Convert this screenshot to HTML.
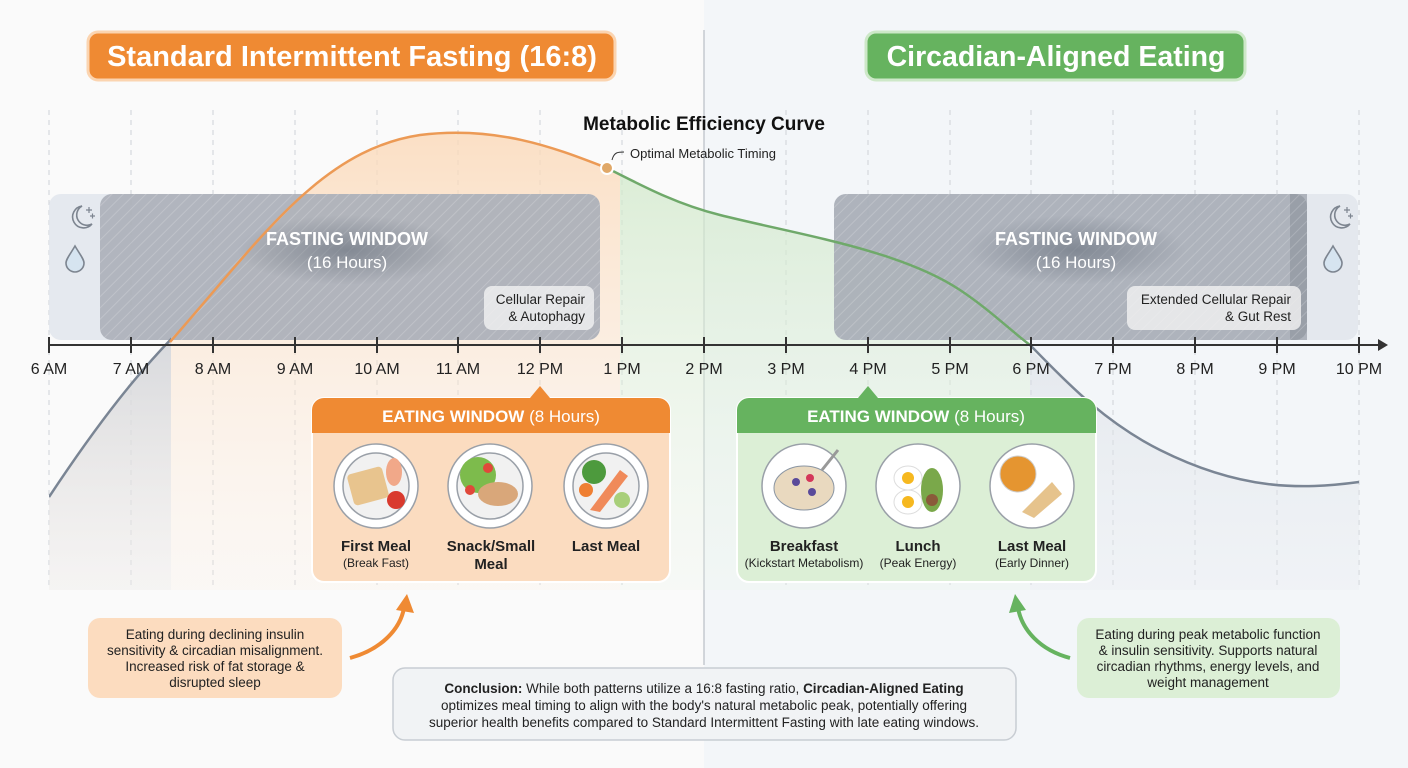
<!DOCTYPE html>
<html><head><meta charset="utf-8"><style>
html,body{margin:0;padding:0;width:1408px;height:768px;overflow:hidden;background:#fafafa;font-family:"Liberation Sans",sans-serif}
svg{position:absolute;left:0;top:0}
</style></head><body>
<svg width="1408" height="768" viewBox="0 0 1408 768" font-family="Liberation Sans, sans-serif">
<defs>
<pattern id="hatch" width="8" height="8" patternUnits="userSpaceOnUse" patternTransform="rotate(45)">
<line x1="0" y1="0" x2="0" y2="8" stroke="#ffffff" stroke-opacity="0.18" stroke-width="2"/></pattern>
<linearGradient id="fo" x1="0" y1="0" x2="0" y2="1"><stop offset="0" stop-color="#fbd9b8" stop-opacity="0.8"/><stop offset="1" stop-color="#fdeee0" stop-opacity="0.2"/></linearGradient>
<linearGradient id="fg" x1="0" y1="0" x2="0" y2="1"><stop offset="0" stop-color="#cfe8c8" stop-opacity="0.8"/><stop offset="1" stop-color="#eaf5e6" stop-opacity="0.2"/></linearGradient>
<linearGradient id="fgr" x1="0" y1="0" x2="0" y2="1"><stop offset="0" stop-color="#cdd3dc" stop-opacity="0.8"/><stop offset="1" stop-color="#e8ebef" stop-opacity="0.3"/></linearGradient>
<radialGradient id="glow"><stop offset="0" stop-color="#5d6673" stop-opacity="0.55"/><stop offset="1" stop-color="#5d6673" stop-opacity="0"/></radialGradient>
<clipPath id="cl"><rect x="49" y="0" width="571" height="600"/></clipPath>
<clipPath id="cm"><rect x="620" y="0" width="410" height="600"/></clipPath>
<clipPath id="cr"><rect x="1030" y="0" width="330" height="600"/></clipPath>
<clipPath id="cll"><rect x="49" y="0" width="122" height="600"/></clipPath>
</defs>
<rect x="704" y="0" width="704" height="768" fill="#f3f6f9"/>
<g stroke="#cfd3d8" stroke-dasharray="5,5" stroke-width="1">
<line x1="49" y1="110" x2="49" y2="585"/><line x1="131" y1="110" x2="131" y2="585"/><line x1="213" y1="110" x2="213" y2="585"/><line x1="295" y1="110" x2="295" y2="585"/><line x1="377" y1="110" x2="377" y2="585"/><line x1="458" y1="110" x2="458" y2="585"/><line x1="540" y1="110" x2="540" y2="585"/><line x1="622" y1="110" x2="622" y2="585"/><line x1="786" y1="110" x2="786" y2="585"/><line x1="868" y1="110" x2="868" y2="585"/><line x1="950" y1="110" x2="950" y2="585"/><line x1="1031" y1="110" x2="1031" y2="585"/><line x1="1113" y1="110" x2="1113" y2="585"/><line x1="1195" y1="110" x2="1195" y2="585"/><line x1="1277" y1="110" x2="1277" y2="585"/><line x1="1359" y1="110" x2="1359" y2="585"/>
</g>
<line x1="704" y1="30" x2="704" y2="665" stroke="#b8bec6" stroke-width="1.2"/>
<g>
<path clip-path="url(#cl)" d="M49,497 C100,420 140,370 180,330 C260,240 320,150 420,135 C500,125 560,150 607,168 C650,190 680,205 720,215 C800,235 900,250 960,290 C1020,330 1080,410 1160,450 C1240,490 1300,490 1359,482 L1359,590 L49,590 Z" fill="url(#fo)"/>
<path clip-path="url(#cll)" d="M49,497 C100,420 140,370 180,330 L180,590 L49,590 Z" fill="url(#fgr)"/>
<path clip-path="url(#cm)" d="M49,497 C100,420 140,370 180,330 C260,240 320,150 420,135 C500,125 560,150 607,168 C650,190 680,205 720,215 C800,235 900,250 960,290 C1020,330 1080,410 1160,450 C1240,490 1300,490 1359,482 L1359,590 L49,590 Z" fill="url(#fg)"/>
<path clip-path="url(#cr)" d="M49,497 C100,420 140,370 180,330 C260,240 320,150 420,135 C500,125 560,150 607,168 C650,190 680,205 720,215 C800,235 900,250 960,290 C1020,330 1080,410 1160,450 C1240,490 1300,490 1359,482 L1359,590 L49,590 Z" fill="url(#fgr)"/>
</g>
<rect x="49" y="194" width="551" height="146" rx="12" fill="#e1e5ec" opacity="0.85"/>
<rect x="100" y="194" width="500" height="146" rx="12" fill="#8d939c" opacity="0.6"/>
<rect x="100" y="194" width="500" height="146" rx="12" fill="url(#hatch)"/>
<ellipse cx="347" cy="250" rx="110" ry="35" fill="url(#glow)"/>
<rect x="834" y="194" width="524" height="146" rx="12" fill="#e1e5ec" opacity="0.85"/>
<rect x="834" y="194" width="473" height="146" rx="12" fill="#8d939c" opacity="0.62"/>
<rect x="1290" y="194" width="17" height="146" fill="#8d939c" opacity="0.62"/>
<rect x="834" y="194" width="473" height="146" rx="12" fill="url(#hatch)"/>
<ellipse cx="1076" cy="250" rx="110" ry="35" fill="url(#glow)"/>
<path clip-path="url(#cll)" d="M49,497 C100,420 140,370 180,330" stroke="#7a8594" stroke-width="2.5" fill="none"/>
<path d="M170,342 C260,240 320,150 420,135 C500,125 560,150 607,168" stroke="#ec9a55" stroke-width="2.5" fill="none"/>
<path d="M607,168 C650,190 680,205 720,215 C800,235 900,250 960,290 C990,310 1010,330 1030,345" stroke="#6fa96a" stroke-width="2.5" fill="none"/>
<path d="M1030,345 C1060,375 1100,420 1160,450 C1240,490 1300,490 1359,482" stroke="#7a8594" stroke-width="2.5" fill="none"/>
<circle cx="607" cy="168" r="6" fill="#e0a868" stroke="#fff" stroke-width="2"/>
<path d="M612,160 C614,152 618,152 624,152" stroke="#333" fill="none" stroke-width="1"/>
<text x="630" y="158" font-size="13" fill="#222">Optimal Metabolic Timing</text>
<text x="704" y="130" font-size="19" font-weight="bold" fill="#111" text-anchor="middle">Metabolic Efficiency Curve</text>
<g text-anchor="middle" fill="#fff">
<text x="347" y="245" font-size="18" font-weight="bold">FASTING WINDOW</text>
<text x="347" y="268" font-size="17">(16 Hours)</text>
<text x="1076" y="245" font-size="18" font-weight="bold">FASTING WINDOW</text>
<text x="1076" y="268" font-size="17">(16 Hours)</text>
</g>
<rect x="484" y="286" width="110" height="44" rx="8" fill="#f2f2f2" opacity="0.8"/>
<text font-size="13.5" fill="#222" text-anchor="end"><tspan x="585" y="304">Cellular Repair</tspan><tspan x="585" y="321">&amp; Autophagy</tspan></text>
<rect x="1127" y="286" width="174" height="44" rx="8" fill="#f2f2f2" opacity="0.8"/>
<text font-size="13.5" fill="#222" text-anchor="end"><tspan x="1291" y="304">Extended Cellular Repair</tspan><tspan x="1291" y="321">&amp; Gut Rest</tspan></text>
<g fill="none" stroke="#7d8590" stroke-width="1.6">
<path d="M82,206 A11,11 0 1 0 92,224 A9,9 0 0 1 82,206Z"/>
<path d="M86,210 h6 M89,207 v6 M90,216 h5 M92.5,213.5 v5" stroke-width="1.2"/>
<path d="M75,246 C71,253 66,259 66,263 A9,9 0 0 0 84,263 C84,259 79,253 75,246Z" fill="#d6e4f0"/>
<path d="M1340,206 A11,11 0 1 0 1350,224 A9,9 0 0 1 1340,206Z"/>
<path d="M1344,210 h6 M1347,207 v6 M1348,216 h5 M1350.5,213.5 v5" stroke-width="1.2"/>
<path d="M1333,246 C1329,253 1324,259 1324,263 A9,9 0 0 0 1342,263 C1342,259 1337,253 1333,246Z" fill="#d6e4f0"/>
</g>
<line x1="49" y1="345" x2="1380" y2="345" stroke="#333" stroke-width="2"/>
<path d="M1378,339 L1388,345 L1378,351Z" fill="#333"/>
<g stroke="#333" stroke-width="2">
<line x1="49" y1="337" x2="49" y2="353"/><line x1="131" y1="337" x2="131" y2="353"/><line x1="213" y1="337" x2="213" y2="353"/><line x1="295" y1="337" x2="295" y2="353"/><line x1="377" y1="337" x2="377" y2="353"/><line x1="458" y1="337" x2="458" y2="353"/><line x1="540" y1="337" x2="540" y2="353"/><line x1="622" y1="337" x2="622" y2="353"/><line x1="704" y1="337" x2="704" y2="353"/><line x1="786" y1="337" x2="786" y2="353"/><line x1="868" y1="337" x2="868" y2="353"/><line x1="950" y1="337" x2="950" y2="353"/><line x1="1031" y1="337" x2="1031" y2="353"/><line x1="1113" y1="337" x2="1113" y2="353"/><line x1="1195" y1="337" x2="1195" y2="353"/><line x1="1277" y1="337" x2="1277" y2="353"/><line x1="1359" y1="337" x2="1359" y2="353"/>
</g>
<g font-size="16" fill="#222" text-anchor="middle">
<text x="49" y="374">6 AM</text><text x="131" y="374">7 AM</text><text x="213" y="374">8 AM</text><text x="295" y="374">9 AM</text><text x="377" y="374">10 AM</text><text x="458" y="374">11 AM</text><text x="540" y="374">12 PM</text><text x="622" y="374">1 PM</text><text x="704" y="374">2 PM</text><text x="786" y="374">3 PM</text><text x="868" y="374">4 PM</text><text x="950" y="374">5 PM</text><text x="1031" y="374">6 PM</text><text x="1113" y="374">7 PM</text><text x="1195" y="374">8 PM</text><text x="1277" y="374">9 PM</text><text x="1359" y="374">10 PM</text>
</g>
<rect x="88" y="32" width="527" height="48" rx="10" fill="#ef8a33" stroke="#fbd4b0" stroke-width="3"/>
<text x="352" y="66" font-size="29" font-weight="bold" fill="#fff" text-anchor="middle">Standard Intermittent Fasting (16:8)</text>
<rect x="866" y="32" width="379" height="48" rx="10" fill="#66b35f" stroke="#cde8c8" stroke-width="3"/>
<text x="1056" y="66" font-size="28.5" font-weight="bold" fill="#fff" text-anchor="middle">Circadian-Aligned Eating</text>
<rect x="312" y="398" width="358" height="184" rx="12" fill="#fbdcc0" stroke="#fff" stroke-width="2"/>
<path d="M312,410 A12,12 0 0 1 324,398 L658,398 A12,12 0 0 1 670,410 L670,433 L312,433Z" fill="#ef8a33"/>
<path d="M530,398 L540,386 L550,398Z" fill="#ef8a33"/>
<text x="491" y="422" font-size="17" fill="#fff" text-anchor="middle"><tspan font-weight="bold">EATING WINDOW</tspan> (8 Hours)</text>
<rect x="737" y="398" width="359" height="184" rx="12" fill="#dcefd6" stroke="#fff" stroke-width="2"/>
<path d="M737,410 A12,12 0 0 1 749,398 L1084,398 A12,12 0 0 1 1096,410 L1096,433 L737,433Z" fill="#66b35f"/>
<path d="M858,398 L868,386 L878,398Z" fill="#66b35f"/>
<text x="916" y="422" font-size="17" fill="#fff" text-anchor="middle"><tspan font-weight="bold">EATING WINDOW</tspan> (8 Hours)</text>
<g stroke="#9aa0a8" stroke-width="1.5">
<circle cx="376" cy="486" r="42" fill="#fff"/><circle cx="376" cy="486" r="33" fill="#f1f1f1"/>
<circle cx="490" cy="486" r="42" fill="#fff"/><circle cx="490" cy="486" r="33" fill="#f1f1f1"/>
<circle cx="606" cy="486" r="42" fill="#fff"/><circle cx="606" cy="486" r="33" fill="#f1f1f1"/>
<circle cx="804" cy="486" r="42" fill="#fff"/><circle cx="918" cy="486" r="42" fill="#fff"/><circle cx="1032" cy="486" r="42" fill="#fff"/>
</g>
<rect x="350" y="470" width="36" height="32" rx="4" fill="#e8c48e" transform="rotate(-15 368 486)"/>
<circle cx="396" cy="500" r="9" fill="#d93a2e"/><ellipse cx="394" cy="472" rx="8" ry="14" fill="#f1a889"/>
<circle cx="478" cy="475" r="18" fill="#7dbb4c"/><ellipse cx="498" cy="494" rx="20" ry="12" fill="#d9a77a"/><circle cx="470" cy="490" r="5" fill="#e0483a"/><circle cx="488" cy="468" r="5" fill="#e0483a"/>
<circle cx="594" cy="472" r="12" fill="#4d9a3d"/><circle cx="586" cy="490" r="7" fill="#ef7f32"/><path d="M590,510 L620,470 L628,476 L600,512Z" fill="#f08a5a"/><circle cx="622" cy="500" r="8" fill="#a8cf7a"/>
<ellipse cx="804" cy="488" rx="30" ry="22" fill="#e9d9bf" stroke="#8b96a3"/><circle cx="796" cy="482" r="4" fill="#5a4a9a"/><circle cx="810" cy="478" r="4" fill="#d4365a"/><circle cx="812" cy="492" r="4" fill="#5a4a9a"/><line x1="822" y1="470" x2="838" y2="450" stroke="#999" stroke-width="3"/>
<ellipse cx="908" cy="478" rx="14" ry="12" fill="#fff" stroke="#ddd"/><circle cx="908" cy="478" r="6" fill="#f6b81f"/><ellipse cx="908" cy="502" rx="14" ry="12" fill="#fff" stroke="#ddd"/><circle cx="908" cy="502" r="6" fill="#f6b81f"/><ellipse cx="932" cy="490" rx="11" ry="22" fill="#7aa84a"/><circle cx="932" cy="500" r="6" fill="#8a5a3a"/>
<circle cx="1018" cy="474" r="18" fill="#e59530" stroke="#ccc"/><path d="M1022,512 L1052,482 L1062,494 L1034,518Z" fill="#e6c38c"/>
<g text-anchor="middle" fill="#222">
<text x="376" y="551" font-size="15" font-weight="bold">First Meal</text><text x="376" y="567" font-size="12">(Break Fast)</text>
<text x="491" y="551" font-size="15" font-weight="bold">Snack/Small</text><text x="491" y="569" font-size="15" font-weight="bold">Meal</text>
<text x="606" y="551" font-size="15" font-weight="bold">Last Meal</text>
<text x="804" y="551" font-size="15" font-weight="bold">Breakfast</text><text x="804" y="567" font-size="12">(Kickstart Metabolism)</text>
<text x="918" y="551" font-size="15" font-weight="bold">Lunch</text><text x="918" y="567" font-size="12">(Peak Energy)</text>
<text x="1032" y="551" font-size="15" font-weight="bold">Last Meal</text><text x="1032" y="567" font-size="12">(Early Dinner)</text>
</g>
<rect x="88" y="618" width="254" height="80" rx="12" fill="#fcdcbf"/>
<text font-size="13.5" fill="#222" text-anchor="middle"><tspan x="215" y="639">Eating during declining insulin</tspan><tspan x="215" y="655">sensitivity &amp; circadian misalignment.</tspan><tspan x="215" y="671">Increased risk of fat storage &amp;</tspan><tspan x="215" y="687">disrupted sleep</tspan></text>
<path d="M350,658 C380,650 400,630 404,608" stroke="#ef8a33" stroke-width="4" fill="none"/><path d="M396,610 L407,594 L414,613Z" fill="#ef8a33"/>
<rect x="1077" y="618" width="263" height="80" rx="12" fill="#dcefd6"/>
<text font-size="13.5" fill="#222" text-anchor="middle"><tspan x="1208" y="639">Eating during peak metabolic function</tspan><tspan x="1208" y="655">&amp; insulin sensitivity. Supports natural</tspan><tspan x="1208" y="671">circadian rhythms, energy levels, and</tspan><tspan x="1208" y="687">weight management</tspan></text>
<path d="M1070,658 C1040,650 1022,630 1018,608" stroke="#66b35f" stroke-width="4" fill="none"/><path d="M1009,613 L1015,594 L1026,610Z" fill="#66b35f"/>
<rect x="393" y="668" width="623" height="72" rx="12" fill="#f1f3f5" stroke="#c8cdd3" stroke-width="1.5"/>
<text font-size="13.5" fill="#222" text-anchor="middle"><tspan x="704" y="693"><tspan font-weight="bold">Conclusion:</tspan> While both patterns utilize a 16:8 fasting ratio, <tspan font-weight="bold">Circadian-Aligned Eating</tspan></tspan><tspan x="704" y="710">optimizes meal timing to align with the body's natural metabolic peak, potentially offering</tspan><tspan x="704" y="727">superior health benefits compared to Standard Intermittent Fasting with late eating windows.</tspan></text>
</svg>
</body></html>
